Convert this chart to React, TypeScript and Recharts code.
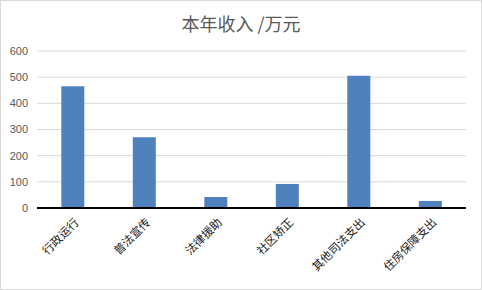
import { BarChart, Bar, XAxis, YAxis, CartesianGrid } from "recharts";

// 本年收入（万元）
const categories = ["行政运行", "普法宣传", "法律援助", "社区矫正", "其他司法支出", "住房保障支出"];
const income = [465, 270, 42, 92, 505, 27];
const yTicks = [0, 100, 200, 300, 400, 500, 600];

const data = categories.map((name, i) => ({ name, value: income[i] }));

const CJK = '"Noto Sans CJK SC", "Noto Sans", sans-serif';

function SlantTick({ x, y, payload }: any) {
  const ax = x + 7;
  return (
    <text
      x={ax}
      y={y}
      transform={`rotate(-45, ${ax}, ${y})`}
      textAnchor="end"
      fontSize={11.5}
      fill="#1a1a1a"
      fontFamily={CJK}
    >
      {payload.value}
    </text>
  );
}

export default function App() {
  return (
    <div
      style={{
        position: "absolute",
        left: 0,
        top: 0,
        width: 482,
        height: 290,
        boxSizing: "border-box",
        border: "1px solid #d9d9d9",
        background: "#fff",
      }}
    >
      <div
        style={{
          position: "absolute",
          left: 0,
          top: 10,
          width: 480,
          textAlign: "center",
          fontSize: 18,
          color: "#595959",
          fontFamily: CJK,
          lineHeight: "24px",
        }}
      >
        本年收入 /万元
      </div>
      <div style={{ position: "absolute", left: -1, top: -1 }}>
        <BarChart
          width={482}
          height={290}
          data={data}
          barCategoryGap="34%"
          margin={{ top: 51, right: 16, bottom: 0, left: 0 }}
        >
          <CartesianGrid vertical={false} stroke="#d9d9d9" strokeWidth={1} />
          <YAxis
            width={37}
            domain={[0, 600]}
            ticks={yTicks}
            axisLine={false}
            tickLine={false}
            tickSize={0}
            tickMargin={9}
            tick={{ fontSize: 11, fill: "#595959", fontFamily: '"Liberation Sans", sans-serif' }}
          />
          <XAxis
            dataKey="name"
            height={82}
            interval={0}
            tickLine={false}
            axisLine={{ stroke: "#000", strokeWidth: 2 }}
            tickSize={0}
            tickMargin={15}
            tick={<SlantTick />}
          />
          <Bar dataKey="value" fill="#4f81bd" isAnimationActive={false} />
        </BarChart>
      </div>
    </div>
  );
}
